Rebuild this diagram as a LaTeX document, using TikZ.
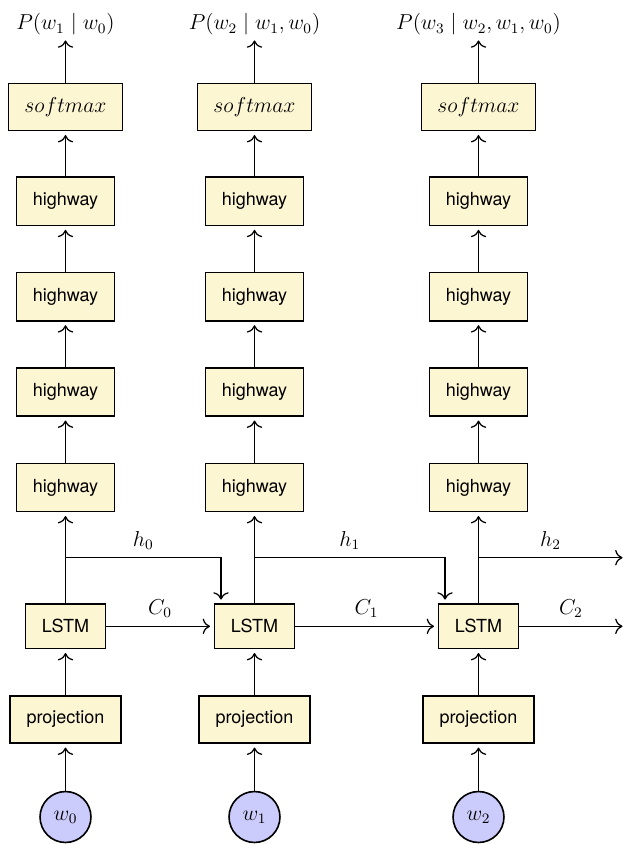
\documentclass[tikz,border=0pt]{standalone}
\usepackage[no-math]{fontspec}
\setsansfont{TeX Gyre Heros}
\usetikzlibrary{calc,arrows.meta}
\definecolor{boxfill}{RGB}{253,246,210}
\definecolor{wordfill}{RGB}{204,204,252}
\begin{document}
\begin{tikzpicture}[x=0.55556pt,y=-0.55556pt,
  box/.style={draw, line width=0.9pt, fill=boxfill, inner sep=0pt, font=\sffamily},
  smbox/.style={box, minimum width=63.5pt, minimum height=26.3pt, font=\large},
  hwbox/.style={box, minimum width=54.3pt, minimum height=26.8pt},
  lstmbox/.style={box, minimum width=44.5pt, minimum height=24.8pt},
  projbox/.style={box, minimum width=62pt, minimum height=26.3pt},
  word/.style={circle, draw, line width=0.9pt, fill=wordfill, minimum size=28.3pt, inner sep=0pt, font=\large},
  outlabel/.style={inner sep=0pt, font=\large},
  conn/.style={-{To[scale=1.3]}, line width=0.7pt, shorten >=2pt},
  outconn/.style={-{To[scale=1.3]}, line width=0.7pt},
  toplink/.style={-{To[scale=1.3]}, line width=0.7pt, shorten >=2.7pt},
  lab/.style={above=1pt, inner sep=3.33pt, font=\large}]
\useasboundingbox (0,0) rectangle (623,844);
\foreach \i/\x in {0/65.5,1/254.5,2/478.5}{
  \node[word] (w\i) at (\x,817) {$w_\i$};
  \node[projbox] (p\i) at (\x,719.5) {projection};
  \node[lstmbox] (l\i) at (\x,626.3) {LSTM};
  \node[hwbox] (ha\i) at (\x,487.5) {highway};
  \node[hwbox] (hb\i) at (\x,392) {highway};
  \node[hwbox] (hc\i) at (\x,296.7) {highway};
  \node[hwbox] (hd\i) at (\x,201.3) {highway};
  \node[smbox] (s\i) at (\x,107) {$softmax$};
  \coordinate (b\i) at (\x,557.7);
  \draw[conn] (w\i) -- (p\i);
  \draw[conn] (p\i) -- (l\i);
  \draw[conn] (l\i) -- (ha\i);
  \draw[conn] (ha\i) -- (hb\i);
  \draw[conn] (hb\i) -- (hc\i);
  \draw[conn] (hc\i) -- (hd\i);
  \draw[conn] (hd\i) -- (s\i);
}
\node[outlabel] (t0) at (65.5,24.4) {$P(w_1 \mid w_0)$};
\node[outlabel] (t1) at (254.5,24.4) {$P(w_2 \mid w_1, w_0)$};
\node[outlabel] (t2) at (478.5,24.4) {$P(w_3 \mid w_2, w_1, w_0)$};
\draw[toplink] (s0) -- (t0);
\draw[toplink] (s1) -- (t1);
\draw[toplink] (s2) -- (t2);
\coordinate (e1) at ($(l1.north)+(-33.5,0)$);
\coordinate (e2) at ($(l2.north)+(-33.5,0)$);
\coordinate (hout) at (622.5,557.7);
\coordinate (cout) at (622.5,626.3);
\draw[conn] (b0) -| (e1) node[pos=0.25, lab] {$h_0$};
\draw[conn] (b1) -| (e2) node[pos=0.25, lab] {$h_1$};
\draw[outconn] (b2) -- (hout) node[midway, lab] {$h_2$};
\draw[conn] (l0) -- node[lab] {$C_0$} (l1);
\draw[conn] (l1) -- node[lab] {$C_1$} (l2);
\draw[outconn] (l2) -- node[lab] {$C_2$} (cout);
\end{tikzpicture}
\end{document}
